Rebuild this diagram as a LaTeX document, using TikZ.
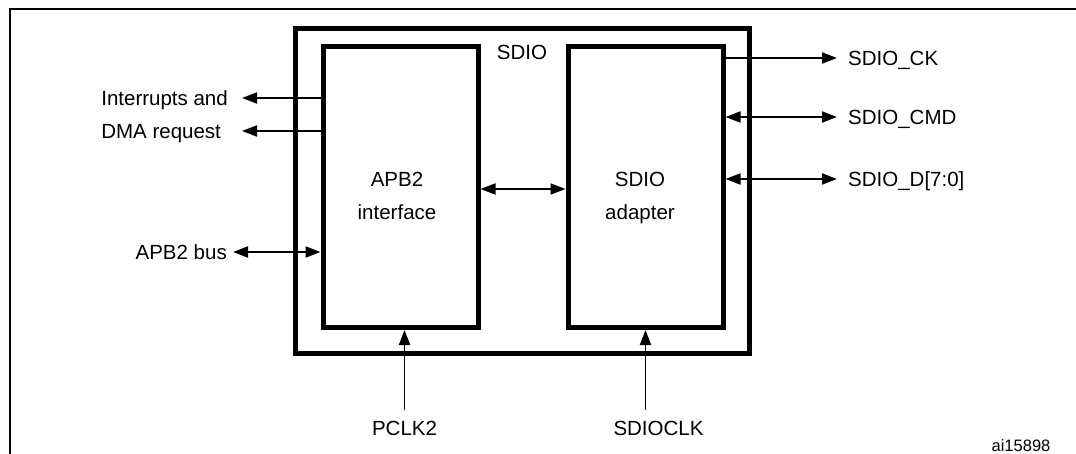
\documentclass[tikz,border=0pt]{standalone}
\usepackage{fontspec}
\setmainfont{Liberation Sans}
\usetikzlibrary{arrows.meta, positioning}

\begin{document}
\begin{tikzpicture}[
        x=1pt, y=-1pt,
        font=\fontsize{20.5}{33}\selectfont,
        blockbox/.style={rectangle, draw=black, line width=5pt, minimum width=155pt, minimum height=281pt, inner sep=0pt},
        txt/.style={inner xsep=11pt, inner ysep=0pt, text height=14.7pt, text depth=0pt},
        wire/.style={line width=1.9pt, ->, >={Triangle[length=15pt, width=11pt]}},
        biwire/.style={wire, <->}
    ]
        \useasboundingbox (0,0) rectangle (1076,454);
        \draw[line width=2.5pt] (10,454) -- (10,9) -- (1076,9);

        % Blocks
        \node[rectangle, draw=black, line width=5pt, minimum width=454pt, minimum height=324pt, inner sep=0pt] (sdio) at (522,191) {};
        \node[txt] (sdiotxt) at (522,52.5) {SDIO};
        \node[blockbox] (apb) at (400.5,187) {};
        \node[blockbox] (adapter) at (645.5,187) {};
        \node[anchor=north, align=center, inner sep=0pt] (apbtxt) at (397,172.3) {APB2\\interface};
        \node[anchor=north, align=center, inner sep=0pt] (adtxt) at (640,172.3) {SDIO\\adapter};

        % Signals
        \node[txt, anchor=east, inner xsep=14pt] (irq) at (242,98) {Interrupts and};
        \node[txt, anchor=west, inner xsep=14pt] (dma) at (irq.west |- 0,131) {DMA request};
        \node[txt, anchor=east, inner xsep=6pt] (bus) at (233,252) {APB2 bus};
        \node[txt, anchor=west] (ck) at (837,58) {SDIO\_CK};
        \node[txt, anchor=west] (cmd) at (837,117) {SDIO\_CMD};
        \node[txt, anchor=west] (dat) at (837,179) {SDIO\_D[7:0]};
        \node[txt, inner ysep=10.6pt] (pclk) at (404.5,428) {PCLK2};
        \node[txt, inner ysep=10.6pt] (sclk) at (658.5,428) {SDIOCLK};
        \node[inner sep=0pt, font=\fontsize{16.5}{20}\selectfont] (ref) at (1021,445.5) {ai15898};

        % Connections
        \draw[wire] (apb.west |- irq) -- (irq.east);
        \draw[wire] (apb.west |- dma) -- (irq.east |- dma);
        \draw[biwire] (bus.east) -- (bus.east -| apb.west);
        \draw[biwire] (apb.east |- 0,189) -- (adapter.west |- 0,189);
        \draw[wire] (adapter.east |- ck) -- (ck.west);
        \draw[biwire] (adapter.east |- cmd) -- (cmd.west);
        \draw[biwire] (adapter.east |- dat) -- (dat.west);
        \draw[wire] (pclk.north) -- (pclk.north |- apb.south);
        \draw[wire] (adapter.south |- sclk.north) -- (adapter.south);
    \end{tikzpicture}
\end{document}
